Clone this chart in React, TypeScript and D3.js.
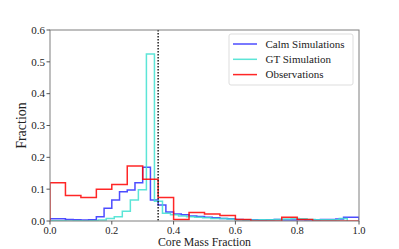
import React from "react";
import * as d3 from "d3";

// histogram values
const calmBinWidth = 0.025;
const calmValues = [
  0.007, 0.007, 0.005, 0.004, 0.003, 0.004, 0.013, 0.04, 0.066, 0.092,
  0.097, 0.12, 0.169, 0.066, 0.05, 0.028, 0.022, 0.02, 0.016, 0.014,
  0.012, 0.01, 0.008, 0.007, 0.005, 0.004, 0.004, 0.003, 0.004, 0.005,
  0.003, 0.003, 0.004, 0.003, 0.004, 0.005, 0.005, 0.006, 0.012, 0.012,
];
const gtBinWidth = 0.026;
const gtValues = [
  0.001, 0.001, 0.0, 0.001, 0.0, 0.001, 0.003, 0.008, 0.013, 0.031,
  0.066, 0.098, 0.525, 0.062, 0.024, 0.02, 0.016, 0.013, 0.012, 0.01,
  0.008, 0.008, 0.006, 0.004, 0.003, 0.003, 0.004, 0.004, 0.005, 0.006,
  0.008, 0.007, 0.005, 0.004, 0.004, 0.004, 0.008,
];
const obsBinWidth = 0.05;
const obsValues = [
  0.12, 0.08, 0.074, 0.1, 0.115, 0.173, 0.131, 0.074, 0.005, 0.027,
  0.022, 0.017, 0.005, 0, 0, 0.012, 0.005, 0, 0, 0,
];
const xTicks = [0, 0.2, 0.4, 0.6, 0.8, 1.0];
const yTicks = [0, 0.1, 0.2, 0.3, 0.4, 0.5, 0.6];
const refLine = 0.35;

const series = [
  { name: "Calm Simulations", values: calmValues, width: calmBinWidth, color: "#0000ff", opacity: 0.7 },
  { name: "GT Simulation", values: gtValues, width: gtBinWidth, color: "#40e0d0", opacity: 0.85 },
  { name: "Observations", values: obsValues, width: obsBinWidth, color: "#ff0000", opacity: 0.85 },
];

const W = 399, H = 249;
const m = { left: 50, right: 40, top: 30, bottom: 28 };
const font = "'Liberation Serif', serif";

export default function App() {
  const x = d3.scaleLinear().domain([0, 1]).range([m.left, W - m.right]);
  const y = d3.scaleLinear().domain([0, 0.6]).range([H - m.bottom, m.top]);

  // step outline like matplotlib histtype='step'
  const stepPath = (vals: number[], w: number) => {
    const pts: [number, number][] = [[0, 0]];
    vals.forEach((v, i) => {
      pts.push([i * w, v]);
      pts.push([(i + 1) * w, v]);
    });
    pts.push([vals.length * w, 0]);
    return d3.line<[number, number]>().x((d) => x(d[0])).y((d) => y(d[1]))(pts) || "";
  };

  return (
    <svg width={W} height={H} style={{ position: "absolute", left: 0, top: 0 }} fontFamily={font}>
      <defs>
        <clipPath id="plot">
          <rect x={m.left} y={m.top} width={W - m.left - m.right} height={H - m.top - m.bottom} />
        </clipPath>
      </defs>
      <g clipPath="url(#plot)">
        {series.map((s) => (
          <path key={s.name} d={stepPath(s.values, s.width)} fill="none" stroke={s.color}
            strokeOpacity={s.opacity} strokeWidth={1.5} />
        ))}
      </g>
      <line x1={x(refLine)} x2={x(refLine)} y1={y(0.6)} y2={y(0)} stroke="#222" strokeWidth={1.5} strokeDasharray="1.5,1.5" />

      {/* frame */}
      <rect x={m.left} y={m.top} width={W - m.left - m.right} height={H - m.top - m.bottom}
        fill="none" stroke="#7f7f7f" strokeWidth={1} />

      {xTicks.map((t) => (
        <g key={"x" + t}>
          <line x1={x(t)} x2={x(t)} y1={y(0)} y2={y(0) + 3.5} stroke="#555" />
          <text x={x(t)} y={y(0) + 12.5} textAnchor="middle" fontSize={10.5} fill="#222">{t.toFixed(1)}</text>
        </g>
      ))}
      {yTicks.map((t) => (
        <g key={"y" + t}>
          <line x1={m.left - 3.5} x2={m.left} y1={y(t)} y2={y(t)} stroke="#555" />
          <text x={m.left - 5} y={y(t) + 3.8} textAnchor="end" fontSize={11} fill="#222">{t.toFixed(1)}</text>
        </g>
      ))}

      <text x={(x(0) + x(1)) / 2} y={246.4} textAnchor="middle" fontSize={11.8} fill="#222">Core Mass Fraction</text>
      <text transform={`translate(26, ${(y(0) + y(0.6)) / 2}) rotate(-90)`} textAnchor="middle" fontSize={14} fill="#222">Fraction</text>

      {/* legend */}
      <rect x={229} y={34} width={124} height={51} rx={2} fill="white" fillOpacity={0.8} stroke="#ddd" />
      {series.map((s, i) => (
        <g key={"l" + s.name}>
          <line x1={233} x2={257} y1={44 + i * 15.3} y2={44 + i * 15.3} stroke={s.color} strokeOpacity={s.opacity} strokeWidth={1.5} />
          <text x={265.5} y={44 + i * 15.3 + 3.8} fontSize={11} fill="#222">{s.name}</text>
        </g>
      ))}
    </svg>
  );
}
